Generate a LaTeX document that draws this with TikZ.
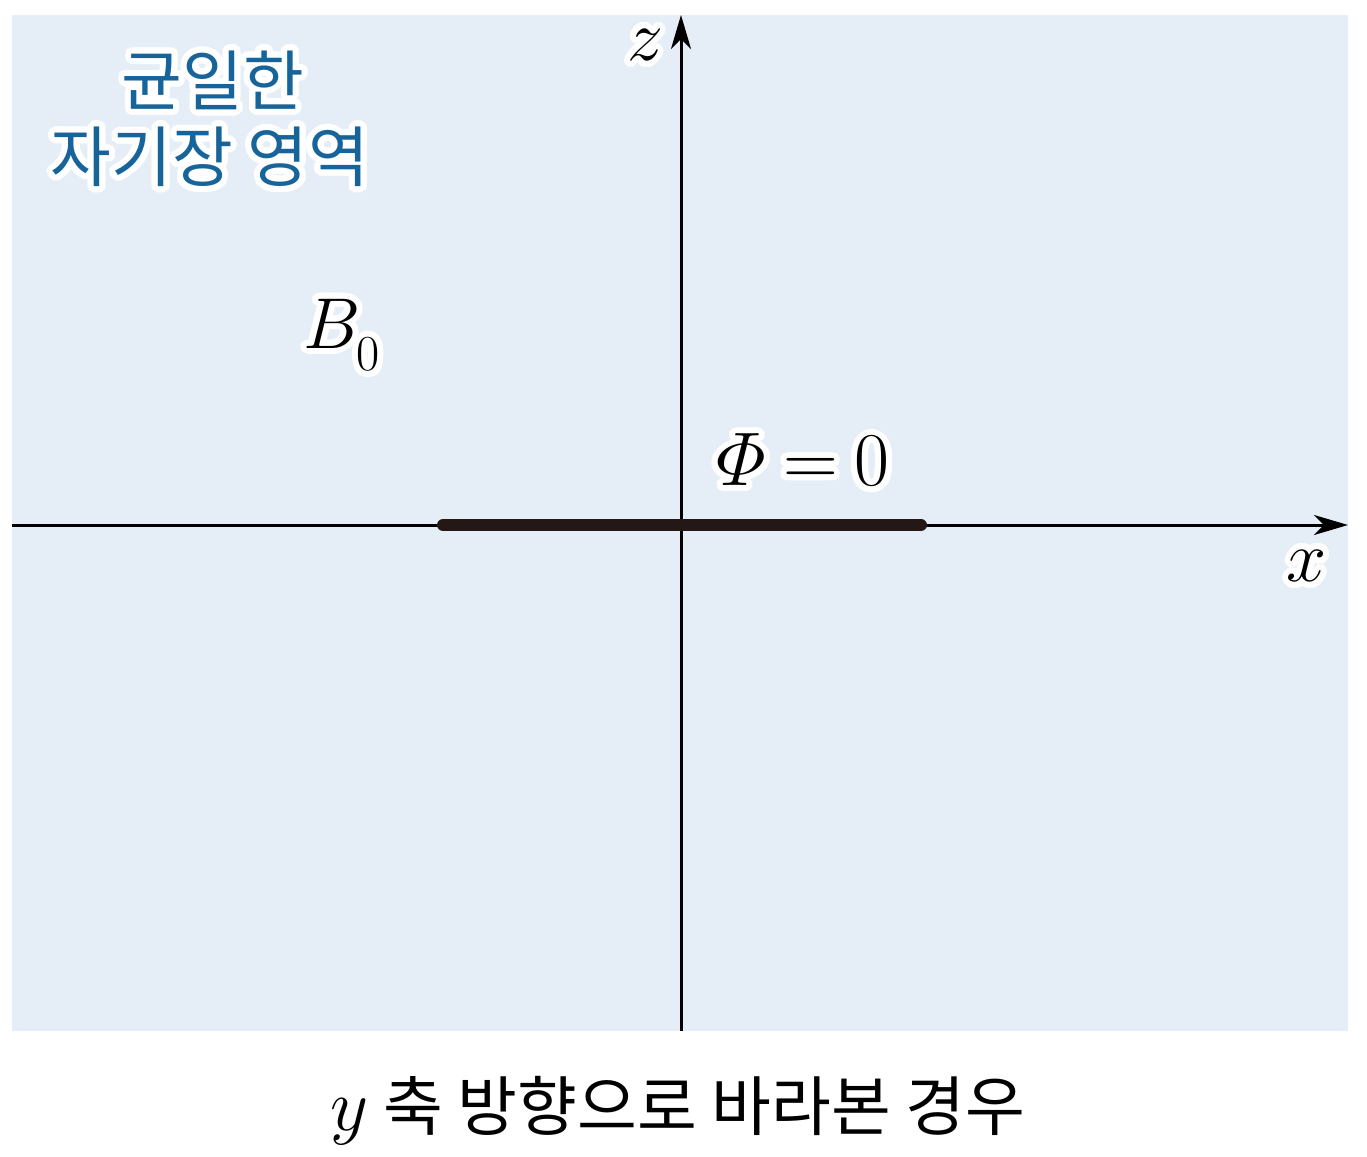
\RequirePackage{fix-cm}
\documentclass[tikz,border=0pt]{standalone}
\usepackage{amsmath}
\usepackage{fontspec}
\newfontfamily\kr{Noto Sans CJK KR}
\usepackage{contour}
\contourlength{3pt}
\contournumber{32}
\usetikzlibrary{arrows.meta}
\definecolor{bgblue}{HTML}{E5EEF6}
\definecolor{txtblue}{HTML}{17649B}
\definecolor{segdark}{HTML}{231815}
\tikzset{
  axis/.style={line width=1.5pt, draw=black, -{Stealth[length=17pt,width=10pt,inset=5pt]}},
  seg/.style={line width=6pt, draw=segdark, line cap=round},
  lab/.style={inner sep=0pt, font=\fontsize{36}{42}\selectfont},
  krlab/.style={inner sep=0pt, text=txtblue, align=center, font=\kr\fontsize{33}{38}\selectfont},
  captionlab/.style={inner sep=0pt, font=\kr\fontsize{32.5}{36}\selectfont}
}
\begin{document}
\begin{tikzpicture}[x=0.5pt,y=-0.5pt]
\useasboundingbox (0,0) rectangle (1367,1157);
\fill[white] (0,0) rectangle (1367,1157);
\fill[bgblue] (12,15) rectangle (1348,1031);
\coordinate (xl) at (12,525);
\coordinate (xr) at (1348,525);
\coordinate (zb) at (681,1031);
\coordinate (zt) at (681,15);
\coordinate (sl) at (443,525);
\coordinate (sr) at (921,525);
\draw[axis] (xl) -- (xr);
\draw[axis] (zb) -- (zt);
\draw[seg] (sl) -- (sr);
\node[lab] (zlab) at (645,48) {\contour{white}{$z$}};
\node[lab] (xlab) at (1307,569) {\contour{white}{$x$}};
\node[lab, anchor=base west] (blab) at (303,348) {\contour{white}{$B_{\raisebox{-6pt}{$\scriptstyle 0$}}$}};
\node[lab, font=\fontsize{38}{42}\selectfont] (philab) at (803,463) {\contour{white}{$\varPhi\mkern-1mu=\mkern-1mu0$}};
\node[krlab] (r1) at (213,83) {\contour{white}{균일한}};
\node[krlab] (r2) at (210,160) {\contour{white}{자기장 영역}};
\node[captionlab] (caption) at (678,1111) {\fontsize{37}{40}\selectfont$y$\kr\fontsize{32.5}{36}\selectfont{} 축 방향으로 바라본 경우};
\end{tikzpicture}
\end{document}
